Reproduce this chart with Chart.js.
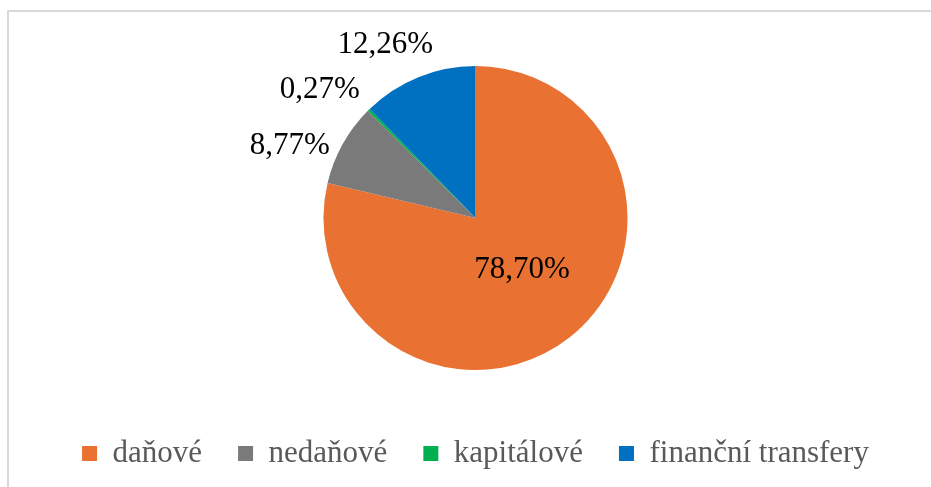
<!DOCTYPE html>
<html>
<head>
<meta charset="utf-8">
<script src="https://cdn.jsdelivr.net/npm/chart.js@4"></script>
<style>
html,body{margin:0;padding:0;background:#fff;}
#wrap{position:relative;width:931px;height:487px;overflow:hidden;}
#frame{position:absolute;left:7px;top:10px;width:1000px;height:600px;border-left:2px solid #d9d9d9;border-top:2px solid #d9d9d9;}
canvas{position:absolute;left:0;top:0;}
</style>
</head>
<body>
<div id="wrap">
<div id="frame"></div>
<canvas id="c" width="931" height="487"></canvas>
</div>
<script>
const categories = ["daňové", "nedaňové", "kapitálové", "finanční transfery"];
const shares = [78.70, 8.77, 0.27, 12.26];
const valueLabels = ["78,70%", "8,77%", "0,27%", "12,26%"];
const colors = ["#E97132", "#7A7A7A", "#00B050", "#0070C0"];

// label placement: [radius fraction, dx, dy] relative to the slice's mid-angle point
const labelPlacement = [[0.45, 4, -2], [1, -53, 2], [1, -49, -20], [1, -33, -32]];

const labelPlugin = {
  id: 'sliceLabels',
  afterDatasetsDraw(chart) {
    const ctx = chart.ctx;
    const meta = chart.getDatasetMeta(0);
    ctx.save();
    ctx.font = '31px "Liberation Serif", "Times New Roman", serif';
    ctx.fillStyle = '#000';
    ctx.textAlign = 'center';
    ctx.textBaseline = 'middle';
    meta.data.forEach((arc, i) => {
      const p = arc.getProps(['x', 'y', 'startAngle', 'endAngle', 'outerRadius'], true);
      const mid = (p.startAngle + p.endAngle) / 2;
      const [f, dx, dy] = labelPlacement[i];
      const x = p.x + Math.cos(mid) * p.outerRadius * f + dx;
      const y = p.y + Math.sin(mid) * p.outerRadius * f + dy;
      ctx.fillText(valueLabels[i], x, y);
    });
    ctx.restore();
  }
};

new Chart(document.getElementById('c'), {
  type: 'pie',
  data: {
    labels: categories,
    datasets: [{
      data: shares,
      backgroundColor: colors,
      borderWidth: 0,
      radius: 152
    }]
  },
  options: {
    responsive: false,
    animation: false,
    layout: { padding: { left: 20, right: 0, top: 34, bottom: 8 } },
    plugins: {
      tooltip: { enabled: false },
      legend: {
        position: 'bottom',
        labels: {
          boxWidth: 15,
          boxHeight: 15,
          padding: 36,
          color: '#595959',
          font: { family: '"Liberation Serif", "Times New Roman", serif', size: 31 }
        }
      }
    }
  },
  plugins: [labelPlugin]
});
</script>
</body>
</html>
